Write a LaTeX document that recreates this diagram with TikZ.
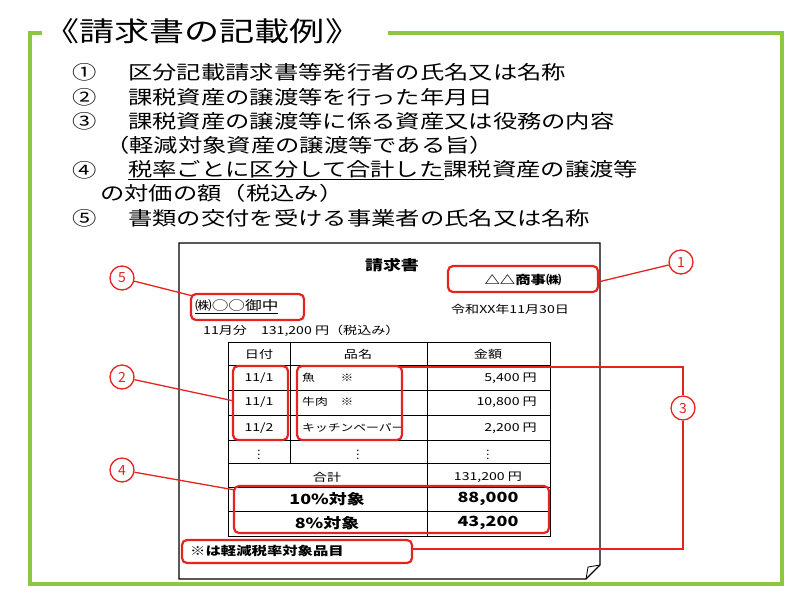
\documentclass[tikz,border=0pt]{standalone}
\usepackage{fontspec}
\setmainfont{Noto Sans CJK JP}
\newcommand{\wdx}[1]{\scalebox{1.28}[1]{#1}}
\definecolor{gr}{HTML}{8DC63F}
\definecolor{rd}{HTML}{E52420}
\tikzset{
 lst/.style={anchor=west,inner sep=0pt,font=\fontsize{19}{19}\selectfont},
 sm/.style={inner sep=0pt,font=\fontsize{11}{11}\selectfont},
 it/.style={inner sep=0pt,anchor=west,font=\fontsize{10}{10}\selectfont},
 am/.style={inner sep=0pt,anchor=east,font=\fontsize{11}{11}\selectfont},
 big/.style={inner sep=0pt,font=\fontsize{14}{14}\selectfont\bfseries},
 rbox/.style={draw=rd,line width=2.2pt,rounded corners=5pt},
 rline/.style={draw=rd,line width=1.3pt},
 num/.style={circle,draw=rd,line width=1.3pt,text=rd,minimum size=24pt,inner sep=0pt,font=\fontsize{14}{14}\selectfont}
}
\begin{document}
\begin{tikzpicture}[x=1pt,y=-1pt]
\useasboundingbox[fill=white] (0,0) rectangle (799,598);
\draw[gr,line width=4pt] (42,33) -- (30,33) -- (30,584) -- (782,584) -- (782,33) -- (388,33);
\node[anchor=west,inner sep=0pt,font=\fontsize{27}{27}\selectfont] (title) at (44,31) {\scalebox{1.3}[1]{《請求書の記載例》}};
\node[lst] (n1) at (72,72) {\wdx{①}};
\node[lst] (t1) at (128,72) {\wdx{区分記載請求書等発行者の氏名又は名称}};
\node[lst] (n2) at (72,97) {\wdx{②}};
\node[lst] (t2) at (128,97) {\wdx{課税資産の譲渡等を行った年月日}};
\node[lst] (n3) at (72,121) {\wdx{③}};
\node[lst] (t3) at (128,121) {\wdx{課税資産の譲渡等に係る資産又は役務の内容}};
\node[lst] (t3b) at (105,145) {\wdx{（軽減対象資産の譲渡等である旨）}};
\node[lst] (n4) at (72,170) {\wdx{④}};
\node[lst] (t4) at (128,170) {\wdx{\underline{税率ごとに区分して合計した}課税資産の譲渡等}};
\node[lst] (t4b) at (100,193) {\wdx{の対価の額（税込み）}};
\node[lst] (n5) at (72,218) {\wdx{⑤}};
\node[lst] (t5) at (128,218) {\wdx{書類の交付を受ける事業者の氏名又は名称}};
% paper
\draw[line width=1.2pt] (179,243) -- (600,243) -- (600,565) -- (586,579) -- (179,579) -- cycle;
\draw[line width=0.8pt] (586,579) -- (588,567) -- (600,565);
\node[big] (head) at (392,265) {\wdx{請求書}};
\node[sm,font=\fontsize{12}{12}\selectfont\bfseries] (co) at (523,280) {\wdx{△△商事㈱}};
\node[sm,anchor=west,font=\fontsize{13}{13}\selectfont] (cust) at (195,307) {\wdx{\underline{㈱○○御中}}};
\node[sm] (date) at (510,309) {\wdx{令和XX年11月30日}};
\node[sm,anchor=west] (amt) at (203,331) {\wdx{11月分\quad 131,200 円（税込み）}};
% table
\draw[line width=0.9pt] (228,342) rectangle (550,536);
\foreach \y in {365,390,415,440,463,487,511} \draw[line width=0.7pt] (228,\y) -- (550,\y);
\draw[line width=0.9pt] (290,342) -- (290,463);
\draw[line width=0.9pt] (427,342) -- (427,536);
\node[sm] (h1) at (259,354) {\wdx{日付}};
\node[sm] (h2) at (358,354) {\wdx{品名}};
\node[sm] (h3) at (488,354) {\wdx{金額}};
\node[sm] (d1) at (259,378) {\wdx{11/1}};
\node[sm] (d2) at (259,402) {\wdx{11/1}};
\node[sm] (d3) at (259,428) {\wdx{11/2}};
\node[it] (p1) at (302,378) {\wdx{魚\qquad ※}};
\node[it] (p2) at (302,402) {\wdx{牛肉\quad ※}};
\node[it] (p3) at (302,428) {\wdx{キッチンペーパー}};
\node[am] (a1) at (537,378) {\wdx{5,400 円}};
\node[am] (a2) at (537,402) {\wdx{10,800 円}};
\node[am] (a3) at (537,428) {\wdx{2,200 円}};
\node[sm] (v1) at (259,452) {$\vdots$};
\node[sm] (v2) at (358,452) {$\vdots$};
\node[sm] (v3) at (488,452) {$\vdots$};
\node[sm] (sum) at (327,477) {\wdx{合計}};
\node[sm] (sumv) at (488,477) {\wdx{131,200 円}};
\node[big] (p10) at (327,499) {\wdx{10\%対象}};
\node[big] (v10) at (488,499) {\wdx{88,000}};
\node[big] (p8) at (327,523) {\wdx{8\%対象}};
\node[big] (v8) at (488,523) {\wdx{43,200}};
\node[sm,anchor=west,font=\fontsize{12}{12}\selectfont\bfseries] (note) at (190,551) {\wdx{※は軽減税率対象品目}};
% red boxes
\draw[rbox] (448,266) rectangle (598,292);
\draw[rbox] (191,294) rectangle (304,320);
\draw[rbox] (233,366) rectangle (288,440);
\draw[rbox] (297,366) rectangle (402,440);
\draw[rbox] (234,486) rectangle (549,533);
\draw[rbox] (182,540) rectangle (412,563);
\node[num] (c1) at (681,262) {1};
\node[num] (c5) at (122,278) {5};
\node[num] (c2) at (122,377) {2};
\node[num] (c3) at (683,408) {3};
\node[num] (c4) at (122,470) {4};
\coordinate (e1) at (598,282);
\coordinate (e5) at (193,296);
\coordinate (e2) at (234,401);
\coordinate (e4) at (235,490);
\coordinate (e3a) at (400,367);
\coordinate (e3b) at (412,549);
\draw[rline] (c1) -- (e1);
\draw[rline] (c5) -- (e5);
\draw[rline] (c2) -- (e2);
\draw[rline] (c4) -- (e4);
\draw[rline] (e3a) -| (c3.north);
\draw[rline] (e3b) -| (c3.south);
\end{tikzpicture}
\end{document}
